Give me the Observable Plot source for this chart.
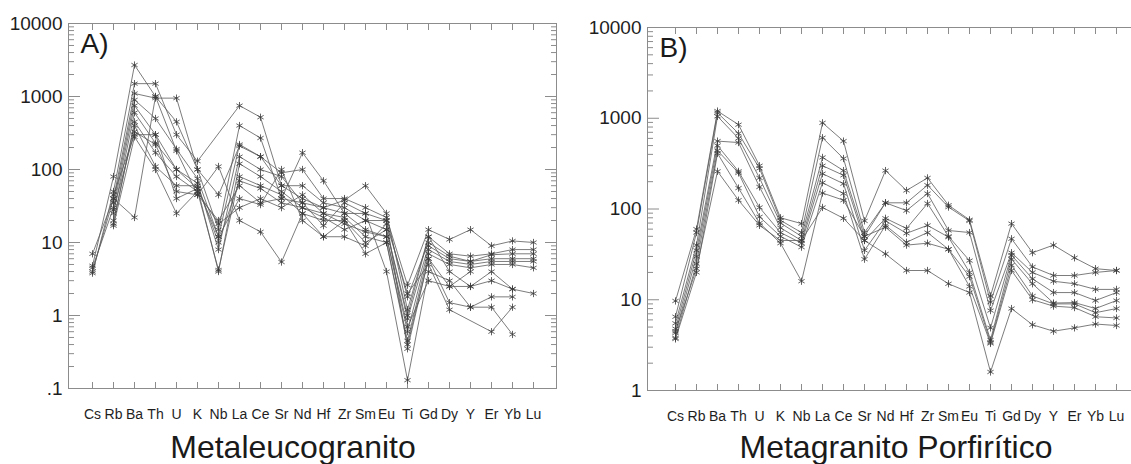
<!DOCTYPE html>
<html><head><meta charset="utf-8">
<script src="https://cdn.jsdelivr.net/npm/d3@7"></script>
<script src="https://cdn.jsdelivr.net/npm/@observablehq/plot@0.6"></script>
<style>
body{margin:0;background:#fff;}
#wrap{position:relative;width:1131px;height:464px;overflow:hidden;font-family:"Liberation Sans",Arial,sans-serif;background:#fff;}
.panel{position:absolute;}
.panel svg{max-width:none !important;}
.title{position:absolute;font-size:32px;line-height:32px;color:#1a1a1a;white-space:nowrap;transform:translateX(-50%);}
</style></head><body>
<div id="wrap">
<div id="pa" class="panel" style="left:0;top:0;width:565px;height:430px"></div>
<div id="pb" class="panel" style="left:579px;top:4px;width:574px;height:428px"></div>
<div class="title" style="left:293px;top:431px">Metaleucogranito</div>
<div class="title" style="left:896px;top:431px">Metagranito Porfirítico</div>
</div>
<script>
const elements = ["Cs","Rb","Ba","Th","U","K","Nb","La","Ce","Sr","Nd","Hf","Zr","Sm","Eu","Ti","Gd","Dy","Y","Er","Yb","Lu"];

// Panel A – Metaleucogranito (values per sample, in element order)
const metaleucogranito = [
  [4.8, 80, 2700, 1000, 450, 100, 45, 210, 150, 90, 100, 40, 40, 30, 22, 2.6, 15, 11, 15, 9, 10.5, 10],
  [3.8, 50, 1500, 1500, 300, 130, null, 750, 520, 60, 40, 30, 38, 60, 25, 1.2, 12, 7, 6.5, 7, 8, 8],
  [4.0, 40, 1100, 950, 950, 100, 15, 400, 270, 40, 170, 70, 25, 25, 20, 1.8, 10, 6.5, 5.5, 6.8, 7, 7],
  [null, 35, 900, 500, 190, 75, 12, 220, 150, 60, 60, 35, 30, 20, 15, 0.9, 9, 6, 5.5, 6, 6, 6],
  [4.5, 30, 750, 300, 100, 65, 8, 150, 100, 80, 35, 30, 25, 15, 12, 0.6, 8, 5.5, 5, 5.5, 5.5, 5.5],
  [null, 25, 600, 230, 100, 55, 4, 120, 80, 50, 30, 25, 22, 12, 10, 0.45, 7, 5, 4.5, 5, 5, 4.5],
  [null, 18, 450, 170, 80, 50, 4.2, 80, 60, 45, 25, 20, 20, 10, 15, 1.0, 12, 4, 2.5, 3, 2.3, 2],
  [null, 20, 400, 110, 60, 60, 10, 70, 55, 35, 30, 22, 15, 20, 20, 0.35, 6, 1.5, 1.3, 1.8, 1.8, null],
  [null, 28, 330, 220, 50, 45, 20, 60, 35, 40, 35, 17, 35, 25, 4, 0.13, 4, 3, 1.3, 1.3, 0.55, null],
  [null, 45, 300, 300, 40, 55, 12, 40, 33, 100, 20, 12, 12, 9, 18, 2.0, 5, 1.2, null, 0.6, 1.3, null],
  [null, 17, 280, 100, 25, 50, 18, 30, 40, 30, 45, 25, 18, 14, 12, 0.7, 3, 2.5, 2.5, 4, 2.3, null],
  [7, 40, 22, 1000, 180, 45, 110, 20, 14, 5.4, 25, 12, 20, 7, 10, 0.4, 6, 2.5, 4, null, null, null]
];

// Panel B – Metagranito Porfirítico
const metagranitoPorfiritico = [
  [9.7, 60, 1200, 850, 300, 80, 69, 890, 560, 74, 265, 160, 220, 110, 76, 11, 69, 33, 40, 29, 22, 21],
  [6.5, 55, 1150, 680, 280, 75, 55, 610, 360, 55, 117, 117, 183, 105, 74, 9.4, 47, 23, 18.5, 18.5, 20, 21],
  [5.5, 40, 1050, 600, 220, 70, 50, 370, 265, 50, 117, 96, 148, 58, 55, 7.6, 33, 20, 16, 15, 13, 13],
  [4.8, 35, 560, 540, 175, 62, 45, 300, 235, 45, 79, 61, 115, 50, 27, 4.9, 31, 17, 12, 12, 9.8, 12],
  [4.3, 30, 500, 260, 104, 55, 42, 245, 190, 35, 74, 54, 66, 49, 20, 3.6, 28, 15, 9.2, 9.3, 8, 9.8],
  [3.8, 25, 440, 250, 82, 50, 38, 195, 148, 28, 66, 43, 55, 36, 18, 3.4, 24, 11, 9, 9, 7.2, 8],
  [3.7, 20, 410, 170, 70, 42, 16, 150, 125, 50, 63, 40, 42, 36, 14, 3.3, 21, 10, 8.5, 8.2, 6.5, 6.3],
  [4.5, 22, 260, 125, 66, 45, 45, 104, 79, 45, 32, 21, 21, 15, 12, 1.6, 8, 5.3, 4.5, 4.9, 5.4, 5.2]
];

const majorTicksA = [0.1, 1, 10, 100, 1000, 10000];
const majorTicksB = [1, 10, 100, 1000, 10000];

function tidy(samples) {
  const out = [];
  samples.forEach((vals, i) => vals.forEach((v, j) => {
    if (v != null) out.push({sample: i, el: elements[j], v});
  }));
  return out;
}

function minorTicks(domain) {
  const m = [];
  for (let d = domain[0]; d < domain[1] * 0.99; d *= 10)
    for (let k = 2; k <= 9; k++) m.push(d * k);
  return m;
}

const fmt = d => d < 1 ? String(d).replace(/^0/, "") : String(d);
const blank = () => "";
const axisColor = "#8c8c8c";

function spider(samples, yDomain, majors, label, width, height) {
  const data = tidy(samples);
  const minors = minorTicks(yDomain);
  return Plot.plot({
    width, height,
    marginLeft: 68, marginTop: 23, marginRight: 9, marginBottom: 42,
    style: {fontFamily: "'Liberation Sans', Arial, sans-serif", color: "#1e1e1e", background: "transparent"},
    x: {type: "point", domain: elements, padding: 1, axis: null},
    y: {type: "log", domain: yDomain, axis: null},
    marks: [
      Plot.frame({stroke: axisColor, strokeWidth: 1}),
      Plot.axisX({anchor: "bottom", label: null, tickSize: -6, tickPadding: 27, fontSize: 14, stroke: axisColor, color: "#1e1e1e"}),
      Plot.axisX({anchor: "top", label: null, tickSize: -6, tickFormat: blank, stroke: axisColor}),
      Plot.axisY({anchor: "left", label: null, ticks: majors, tickSize: -12, tickPadding: 18, tickFormat: fmt, fontSize: 19, stroke: axisColor}),
      Plot.axisY({anchor: "left", label: null, ticks: minors, tickSize: -6, tickFormat: blank, stroke: axisColor}),
      Plot.axisY({anchor: "right", label: null, ticks: majors, tickSize: -12, tickFormat: blank, stroke: axisColor}),
      Plot.axisY({anchor: "right", label: null, ticks: minors, tickSize: -6, tickFormat: blank, stroke: axisColor}),
      Plot.line(data, {x: "el", y: "v", z: "sample", stroke: "#5a5a5a", strokeWidth: 0.8}),
      Plot.dot(data, {x: "el", y: "v", symbol: "asterisk", r: 3.4, stroke: "#3a3a3a", strokeWidth: 0.8}),
      Plot.text([label], {frameAnchor: "top-left", text: d => d, dx: 12, dy: 10, fontSize: 28, textAnchor: "start", lineAnchor: "top", fill: "#1a1a1a"})
    ]
  });
}

document.getElementById("pa").appendChild(spider(metaleucogranito, [0.1, 10000], majorTicksA, "A)", 565, 430));
document.getElementById("pb").appendChild(spider(metagranitoPorfiritico, [1, 10000], majorTicksB, "B)", 574, 428));
</script>
</body></html>
